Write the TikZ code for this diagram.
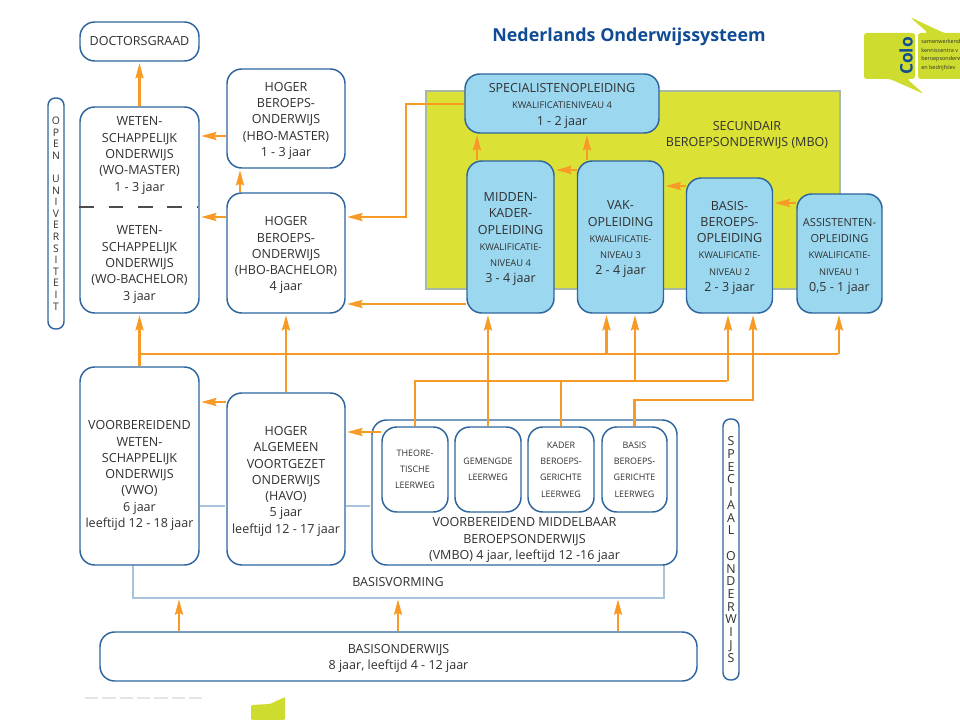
\documentclass[tikz,border=0pt]{standalone}
\usepackage{fontspec}
\setmainfont{Open Sans}
\usetikzlibrary{arrows.meta}
\definecolor{boxblue}{HTML}{2F659E}
\definecolor{fillblue}{HTML}{9BD8F0}
\definecolor{mboyellow}{HTML}{DCE235}
\definecolor{logoyellow}{HTML}{CDDC2E}
\definecolor{floworange}{HTML}{F79A26}
\definecolor{paleblue}{HTML}{A9C3DA}
\definecolor{titleblue}{HTML}{104C93}
\definecolor{textgray}{HTML}{303030}
\newcommand{\kwal}[1]{{\fontsize{7}{12.2}\selectfont #1}}
\newcommand{\narrow}[1]{{\fontsize{8.3}{12.2}\selectfont #1}}
\newcommand{\lift}{\rule{0pt}{10.2pt}}

\begin{document}
\begin{tikzpicture}[x=0.75pt,y=-0.75pt,>={Stealth[length=11.5pt,width=6pt,inset=1.5pt]},shorten >=1pt,
                    size/.style 2 args={minimum width=#1*0.75pt,minimum height=#2*0.75pt},
                    box/.style={draw=boxblue,line width=1.1pt,fill=white,rounded corners=11pt,align=center,inner sep=0pt,
                      text=textgray,font=\fontsize{9.4}{12.2}\selectfont},
                    course/.style={box,fill=fillblue},
                    path box/.style={box,font=\fontsize{6.7}{12.2}\selectfont},
                    tall box/.style={box,rounded corners=5.5pt},
                    caption/.style={align=center,inner sep=0pt,text=textgray,font=\fontsize{9.4}{12.2}\selectfont},
                    flow/.style={draw=floworange,line width=1.8pt},
                    pale/.style={draw=paleblue,line width=1pt}]
  \useasboundingbox (0,0) rectangle (960,720);

  % secundair blok
  \node[draw=black!25!green!15!gray!60,line width=0.8pt,fill=mboyellow,inner sep=0pt,size={414}{198}] (mbo) at (633,190) {};
  \node[caption] (mbotext) at (747,135) {SECUNDAIR\\BEROEPSONDERWIJS (MBO)};

  % bleke lijnen onder de dozen
  \coordinate (basisleft) at (133,598);
  \coordinate (basisright) at (664,598);
  \draw[pale] (133,560) -- (basisleft) -- (basisright) -- (664,560);

  % hoger onderwijs
  \node[box,size={119}{39}] (doctor) at (139.5,41.5) {DOCTORSGRAAD};
  \node[box,size={119}{206}] (wo) at (139.5,210) {};
  \node[caption] (womaster) at (wo.center |- 0,155.5) {WETEN-\\SCHAPPELIJK\\ONDERWIJS\\(WO-MASTER)\\1 - 3 jaar};
  \node[caption] (wobachelor) at (wo.center |- 0,264.5) {WETEN-\\SCHAPPELIJK\\ONDERWIJS\\(WO-BACHELOR)\\3 jaar};
  \node[box,size={118}{99}] (hbomaster) at (286,118.5) {\lift HOGER\\BEROEPS-\\ONDERWIJS\\(HBO-MASTER)\\1 - 3 jaar};
  \node[box,size={118}{120}] (hbobachelor) at (286,253) {\lift HOGER\\BEROEPS-\\ONDERWIJS\\(HBO-BACHELOR)\\4 jaar};
  \draw[draw=black!70,line width=1pt,dash pattern=on 11pt off 11pt] (wo.west |- 0,207) -- (wo.east |- 0,207);

  % mbo opleidingen
  \node[course,size={194}{59}] (spec) at (562,103.5) {\lift SPECIALISTENOPLEIDING\\\kwal{KWALIFICATIENIVEAU 4}\\1 - 2 jaar};
  \node[course,size={87}{152}] (midden) at (510.5,237) {\lift MIDDEN-\\KADER-\\OPLEIDING\\\kwal{KWALIFICATIE-}\\\kwal{NIVEAU 4}\\3 - 4 jaar};
  \node[course,size={86}{152}] (vak) at (620.5,237) {\lift VAK-\\OPLEIDING\\\kwal{KWALIFICATIE-}\\\kwal{NIVEAU 3}\\2 - 4 jaar};
  \node[course,size={86}{135}] (basisberoeps) at (729.5,245.5) {\lift BASIS-\\BEROEPS-\\OPLEIDING\\\kwal{KWALIFICATIE-}\\\kwal{NIVEAU 2}\\2 - 3 jaar};
  \node[course,size={85}{119}] (assistent) at (839.5,253.5) {\lift\narrow{ASSISTENTEN-}\\\narrow{OPLEIDING}\\\kwal{KWALIFICATIE-}\\\kwal{NIVEAU 1}\\0,5 - 1 jaar};

  % voortgezet onderwijs
  \node[box,size={119}{198}] (vwo) at (139.5,466) {};
  \node[caption] (vwotext) at (vwo.center |- 0,475.5) {VOORBEREIDEND\\WETEN-\\SCHAPPELIJK\\ONDERWIJS\\(VWO)\\6 jaar\\leeftijd 12 - 18 jaar};
  \node[box,size={118}{172}] (havo) at (286,479) {\lift HOGER\\ALGEMEEN\\VOORTGEZET\\ONDERWIJS\\(HAVO)\\5 jaar\\leeftijd 12 - 17 jaar};
  \node[box,size={305}{145}] (vmbo) at (524.5,492.5) {};
  \node[caption] (vmbotext) at (vmbo.center |- 0,540) {VOORBEREIDEND MIDDELBAAR\\BEROEPSONDERWIJS\\(VMBO) 4 jaar, leeftijd 12 -16 jaar};
  \node[path box,size={66}{85}] (theorie) at (415,469.5) {THEORE-\\TISCHE\\LEERWEG};
  \node[path box,size={66}{85}] (gemengd) at (488,469.5) {GEMENGDE\\LEERWEG};
  \node[path box,size={66}{85}] (kader) at (561,469.5) {KADER\\BEROEPS-\\GERICHTE\\LEERWEG};
  \node[path box,size={65}{85}] (basispad) at (634.5,469.5) {BASIS\\BEROEPS-\\GERICHTE\\LEERWEG};
  \node[caption] (basisvorming) at (398,582) {BASISVORMING};
  \node[box,size={597}{49}] (basis) at (398.5,656.5) {\lift BASISONDERWIJS\\8 jaar, leeftijd 4 - 12 jaar};

  % zijbalken
  \node[tall box,size={16}{231},font=\fontsize{7.8}{8.7}\selectfont] (open) at (56,213.5)
    {O\\P\\E\\N\\~\\U\\N\\I\\V\\E\\R\\S\\I\\T\\E\\I\\T};
  \node[tall box,size={16}{261},font=\fontsize{9.3}{9.55}\selectfont] (speciaal) at (731,549.5)
    {S\\P\\E\\C\\I\\A\\A\\L\\~\\O\\N\\D\\E\\R\\W\\I\\J\\S};

  % kop en logo
  \node[inner sep=0pt,text=titleblue,font=\fontsize{13.4}{16}\selectfont\bfseries] (title) at (629,37) {Nederlands Onderwijssysteem};
  \begin{scope}
    \clip (850,0) rectangle (960,110);
    \fill[logoyellow,rounded corners=2pt] (864,33) -- (915,33) -- (915,79) -- (907,79) -- (924,94) -- (890,79) -- (864,79) -- cycle;
    \fill[logoyellow,rounded corners=2pt] (918,79) -- (918,33) -- (928,33) -- (910,17) -- (944,33) -- (975,33) -- (975,79) -- cycle;
    \node[inner sep=0pt,rotate=90,text=titleblue,font=\fontsize{13}{14}\selectfont\bfseries] (colo) at (906,56) {Colo};
    \node[anchor=west,align=left,inner sep=0pt,text=textgray,font=\fontsize{4.1}{6.5}\selectfont] (colotext) at (921,55)
      {samenwerkend\\kenniscentra v\\beroepsonderw\\en bedrijfslev};
  \end{scope}
  \fill[logoyellow,rounded corners=1pt] (251,720) -- (251,705) -- (270,704) -- (285,697) -- (285,720) -- cycle;
  \draw[black!10,line width=1.2pt,dash pattern=on 10pt off 3pt] (85,698) -- (205,698);

  % pijlen boven
  \draw[flow,->] (wo.north -| doctor.south) -- (doctor.south);
  \draw[flow,->] (hbomaster.west |- 0,136) -- (wo.east |- 0,136);
  \draw[flow,->] (hbobachelor.west |- 0,217) -- (wo.east |- 0,217);
  \draw[flow,->] (hbobachelor.north -| 240,0) -- (hbomaster.south -| 240,0);
  \draw[flow,->] (spec.west |- 0,104) -| (406,217) -- (hbobachelor.east |- 0,217);
  \draw[flow,->] (midden.west |- 0,304) -- (hbobachelor.east |- 0,304);
  \draw[flow,->] (midden.north -| 477,0) -- (spec.south -| 477,0);
  \draw[flow,->] (vak.north -| 587,0) -- (spec.south -| 587,0);
  \draw[flow,->] (vak.west |- 0,170) -- (midden.east |- 0,170);
  \draw[flow,->] (basisberoeps.west |- 0,186) -- (vak.east |- 0,186);
  \draw[flow,->] (assistent.west |- 0,203) -- (basisberoeps.east |- 0,203);

  % hoofdlijn op y=354
  \coordinate (mainleft) at (139.5,354);
  \coordinate (mainright) at (839,354);
  \draw[flow] (mainleft) -- (mainright);
  \draw[flow,->] (vwo.north) -- (wo.south);
  \draw[flow,->] (havo.north) -- (hbobachelor.south);
  \draw[flow,->] (mainright) -- (assistent.south -| mainright);
  \draw[flow,->] (606.5,354) -- (vak.south -| 606.5,0);
  \draw[flow,->] (gemengd.north) -- (midden.south -| gemengd.north);

  % tweede en derde lijn
  \coordinate (secondleft) at (theorie.north |- 0,381);
  \draw[flow] (theorie.north) -- (secondleft) -- (728,381);
  \draw[flow] (kader.north) -- (kader.north |- secondleft);
  \draw[flow,->] (635,381) -- (vak.south -| 635,0);
  \draw[flow,->] (728,381) -- (basisberoeps.south -| 728,0);
  \draw[flow,->] (basispad.north) |- (753,400) -- (basisberoeps.south -| 753,0);

  % pijlen onder
  \draw[flow,->] (havo.west |- 0,402) -- (vwo.east |- 0,402);
  \draw[flow,->] (theorie.west |- 0,432) -- (havo.east |- 0,432);
  \draw[pale] (vwo.east |- 0,506) -- (havo.west |- 0,506);
  \draw[pale] (havo.east |- 0,506) -- (vmbo.west |- 0,506);
  \draw[flow,->] (basis.north -| 179,0) -- (basisleft -| 179,0);
  \draw[flow,->] (basis.north -| 398,0) -- (basisleft -| 398,0);
  \draw[flow,->] (basis.north -| 618,0) -- (basisleft -| 618,0);
\end{tikzpicture}
\end{document}
